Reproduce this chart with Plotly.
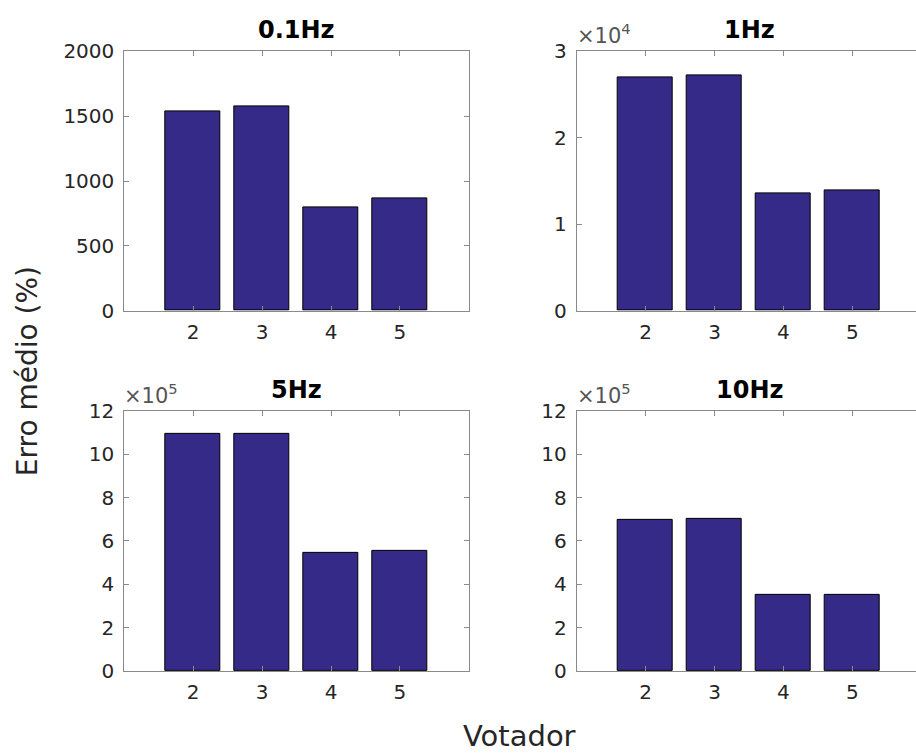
import plotly.graph_objects as go

votador = [2, 3, 4, 5]
titles = ["0.1Hz", "1Hz", "5Hz", "10Hz"]
erro_01hz = [1535, 1578, 800, 865]
erro_1hz = [27050, 27200, 13550, 13950]
erro_5hz = [1094000, 1094000, 547000, 556000]
erro_10hz = [698000, 702000, 352000, 352000]

y_ticks_01 = [0, 500, 1000, 1500, 2000]
y_ticks_1 = [0, 1, 2, 3]
y_ticks_5 = [0, 2, 4, 6, 8, 10, 12]
y_ticks_10 = [0, 2, 4, 6, 8, 10, 12]
exponents = [0, 4, 5, 5]

W, H = 916, 753
bar_color = "#352a87"
axis_color = "#8a8a8a"
text_color = "#262626"
FONT = "DejaVu Sans"

series = [erro_01hz, erro_1hz, erro_5hz, erro_10hz]
ticks = [y_ticks_01, y_ticks_1, y_ticks_5, y_ticks_10]

# pixel layout of axes boxes (left, right, top, bottom)
boxes = [
    (124.3, 469.0, 40.7, 308.7),
    (576.7, 916.0, 40.7, 308.7),
    (124.3, 469.0, 412.0, 680.7),
    (576.7, 916.0, 412.0, 680.7),
]
px_per_unit = 68.9

fig = go.Figure()
annotations = []
for i, (vals, tks, ex, ttl, box) in enumerate(zip(series, ticks, exponents, titles, boxes)):
    n = "" if i == 0 else str(i + 1)
    xa, ya = "x" + n, "y" + n
    fig.add_trace(go.Bar(
        x=votador, y=vals, width=0.8, xaxis=xa, yaxis=ya,
        marker=dict(color=bar_color, line=dict(color="black", width=1)),
        showlegend=False,
    ))
    l, r, t, b = box
    xr = [1, 1 + (r - l) / px_per_unit]
    scale = 10 ** ex
    yvals = [v * scale for v in tks]
    right_open = r >= W
    fig.update_layout(**{
        ("xaxis" + n): dict(
            domain=[l / W, min(r / W, 1.0)], range=xr, anchor=ya,
            tickvals=votador, ticktext=[str(v) for v in votador],
            ticks="inside", ticklen=5, tickcolor=axis_color,
            showline=True, linecolor=axis_color, linewidth=1, mirror="ticks",
            showgrid=False, zeroline=False, fixedrange=True,
            ticklabelstandoff=3,
            tickfont=dict(family=FONT, size=20, color=text_color),
        ),
        ("yaxis" + n): dict(
            domain=[1 - b / H, 1 - t / H], range=[0, yvals[-1]], anchor=xa,
            tickvals=yvals, ticktext=[str(v) for v in tks],
            ticks="inside", ticklen=5, tickcolor=axis_color,
            showline=True, linecolor=axis_color, linewidth=1,
            mirror=False if right_open else "ticks",
            showgrid=False, zeroline=False, fixedrange=True,
            ticklabelstandoff=5,
            tickfont=dict(family=FONT, size=20, color=text_color),
        ),
    })
    annotations.append(dict(
        text="<b>" + ttl + "</b>", xref="paper", yref="paper",
        x=(l + 345 / 2) / W, y=1 - t / H, xanchor="center", yanchor="bottom",
        yshift=5, showarrow=False,
        font=dict(family=FONT, size=24, color="black"),
    ))
    if ex:
        annotations.append(dict(
            text="×10<sup>" + str(ex) + "</sup>", xref="paper", yref="paper",
            x=l / W, y=1 - t / H, xanchor="left", yanchor="bottom",
            xshift=-2, yshift=1, showarrow=False,
            font=dict(family=FONT, size=21, color="#555555"),
        ))

annotations.append(dict(
    text="Erro médio (%)", xref="paper", yref="paper", x=27 / W, y=1 - 371 / H,
    textangle=-90, xanchor="center", yanchor="middle", showarrow=False,
    font=dict(family=FONT, size=28, color=text_color),
))
annotations.append(dict(
    text="Votador", xref="paper", yref="paper", x=519 / W, y=0,
    xanchor="center", yanchor="bottom", yshift=-14, showarrow=False,
    font=dict(family=FONT, size=29, color=text_color),
))

fig.update_layout(
    width=W, height=H, margin=dict(l=0, r=0, t=0, b=0),
    paper_bgcolor="white", plot_bgcolor="white",
    annotations=annotations, bargap=0,
)
fig.write_html("out.html")
